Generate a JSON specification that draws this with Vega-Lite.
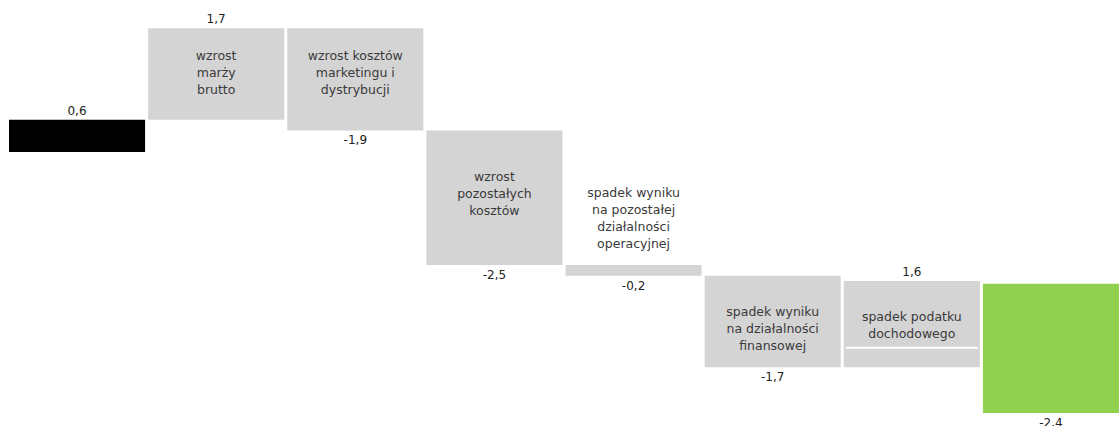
{
  "$schema": "https://vega.github.io/schema/vega-lite/v6.json",
  "width": 1110,
  "height": 426,
  "autosize": {"type": "none"},
  "padding": {"left": 9, "top": 0, "right": 0, "bottom": 0},
  "background": "white",
  "config": {
    "view": {"stroke": null},
    "locale": {"number": {"decimal": ",", "thousands": " ", "grouping": [3], "currency": ["", " zł"], "minus": "-"}},
    "text": {"font": "DejaVu Sans"}
  },
  "data": {
    "values": [
      {"step": 1, "kind": "start", "start": 0, "end": 0.6, "value": 0.6},
      {"step": 2, "kind": "delta", "start": 0.6, "end": 2.3, "value": 1.7, "label": "wzrost\nmarży\nbrutto", "textY": 1.79},
      {"step": 3, "kind": "delta", "start": 2.3, "end": 0.4, "value": -1.9, "label": "wzrost kosztów\nmarketingu i\ndystrybucji", "textY": 1.79},
      {"step": 4, "kind": "delta", "start": 0.4, "end": -2.1, "value": -2.5, "label": "wzrost\npozostałych\nkosztów", "textY": -0.47},
      {"step": 5, "kind": "delta", "start": -2.1, "end": -2.3, "value": -0.2, "label": "spadek wyniku\nna pozostałej\ndziałalności\noperacyjnej", "textY": -0.76},
      {"step": 6, "kind": "delta", "start": -2.3, "end": -4.0, "value": -1.7, "label": "spadek wyniku\nna działalności\nfinansowej", "textY": -2.97},
      {"step": 7, "kind": "delta", "start": -4.0, "end": -2.4, "value": 1.6, "label": "spadek podatku\ndochodowego", "textY": -3.07, "sep": -3.64},
      {"step": 8, "kind": "end", "start": -2.45, "end": -4.85, "value": -2.4}
    ]
  },
  "encoding": {
    "x": {"field": "step", "type": "ordinal", "axis": null, "scale": {"paddingInner": 0.022, "paddingOuter": 0}}
  },
  "layer": [
    {
      "mark": {"type": "bar"},
      "encoding": {
        "y": {"field": "start", "type": "quantitative", "axis": null, "scale": {"domain": [-5.093, 2.825], "nice": false, "zero": false}},
        "y2": {"field": "end"},
        "color": {"field": "kind", "type": "nominal", "legend": null, "scale": {"domain": ["start", "delta", "end"], "range": ["#000000", "#d4d4d4", "#92d050"]}}
      }
    },
    {
      "transform": [{"filter": "isValid(datum.sep)"}],
      "mark": {"type": "tick", "orient": "horizontal", "color": "white", "thickness": 2, "size": 132, "opacity": 1},
      "encoding": {"y": {"field": "sep", "type": "quantitative"}}
    },
    {
      "transform": [{"filter": "isValid(datum.label)"}],
      "mark": {"type": "text", "lineBreak": "\n", "fontSize": 12.5, "lineHeight": 17, "baseline": "middle", "align": "center", "color": "#3a3a3a"},
      "encoding": {
        "y": {"field": "textY", "type": "quantitative"},
        "text": {"field": "label", "type": "nominal"}
      }
    },
    {
      "transform": [{"filter": "datum.value > 0"}],
      "mark": {"type": "text", "fontSize": 12, "baseline": "middle", "align": "center", "dy": -9, "color": "#222222"},
      "encoding": {
        "y": {"field": "end", "type": "quantitative"},
        "text": {"field": "value", "type": "quantitative", "format": ".1f"}
      }
    },
    {
      "transform": [{"filter": "datum.value < 0"}],
      "mark": {"type": "text", "fontSize": 12, "baseline": "middle", "align": "center", "dy": 10, "color": "#222222"},
      "encoding": {
        "y": {"field": "end", "type": "quantitative"},
        "text": {"field": "value", "type": "quantitative", "format": ".1f"}
      }
    }
  ]
}
